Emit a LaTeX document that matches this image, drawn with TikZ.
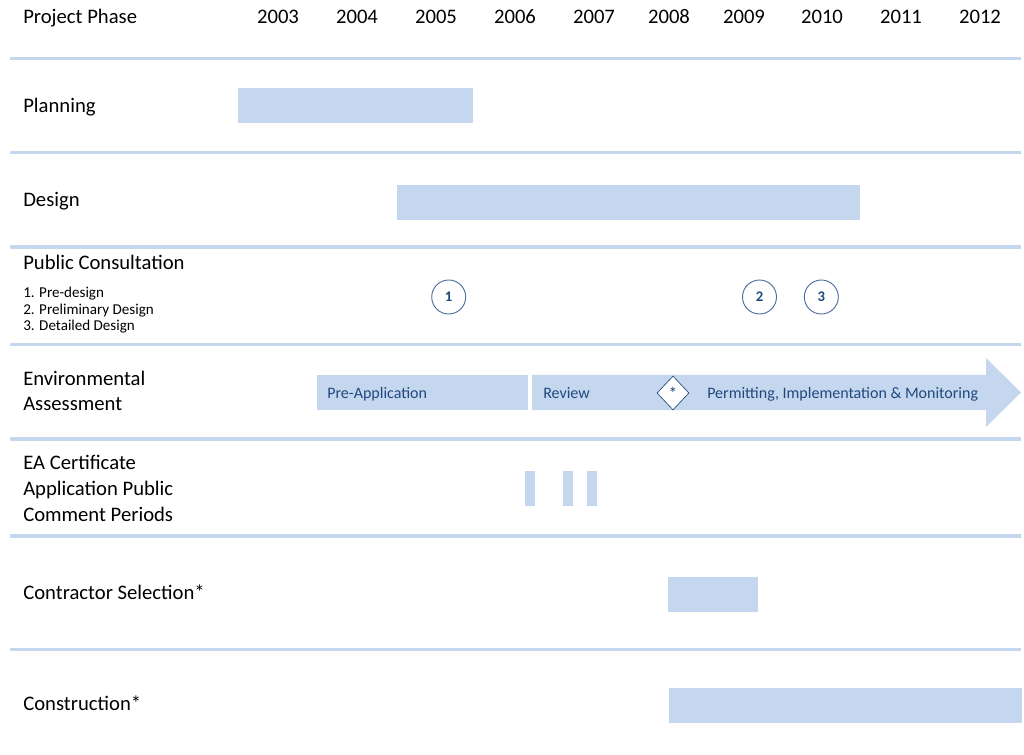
\documentclass[tikz,border=0pt]{standalone}
\usepackage{fontspec}
\setmainfont{Carlito}
\usetikzlibrary{shapes.geometric}
\definecolor{barblue}{RGB}{197,214,239}
\definecolor{txtblue}{RGB}{31,73,125}
\definecolor{ringblue}{RGB}{79,110,160}
\tikzset{
  sep/.style={draw=barblue,line width=2.3pt},
  bar/.style={fill=barblue,draw=none},
  fixh/.style={text height=0.9em,text depth=0.15em},
  lbl/.style={anchor=west,inner sep=0pt,fixh,font=\fontsize{15.5}{18}\selectfont,text=black},
  yr/.style={anchor=center,inner sep=0pt,fixh,font=\fontsize{15.5}{18}\selectfont,text=black},
  lst/.style={anchor=west,inner sep=0pt,fixh,font=\fontsize{11.3}{13}\selectfont,text=black},
  ealbl/.style={anchor=west,inner sep=0pt,fixh,font=\fontsize{12}{14}\selectfont,text=txtblue},
  ring/.style={circle,draw=ringblue,line width=0.7pt,fill=white,minimum size=25.5pt,inner sep=0pt,font=\fontsize{11}{12}\selectfont\bfseries,text=txtblue},
  gate/.style={diamond,draw=txtblue,line width=0.5pt,fill=white,minimum width=24pt,minimum height=25.5pt,inner sep=0pt,font=\fontsize{13}{14}\selectfont,text=txtblue}
}
\begin{document}
\begin{tikzpicture}[x=0.75pt,y=-0.75pt]
\useasboundingbox[fill=white] (0,0) rectangle (1024,755);
% header
\node[lbl] (hdr) at (23,19) {Project Phase};
\node[yr] (y2003) at (278,19) {2003};
\node[yr] (y2004) at (357,19) {2004};
\node[yr] (y2005) at (436,19) {2005};
\node[yr] (y2006) at (515,19) {2006};
\node[yr] (y2007) at (594,19) {2007};
\node[yr] (y2008) at (669,19) {2008};
\node[yr] (y2009) at (744,19) {2009};
\node[yr] (y2010) at (822,19) {2010};
\node[yr] (y2011) at (901,19) {2011};
\node[yr] (y2012) at (980,19) {2012};
% separators
\foreach \yy in {58.5,152.5,247,344.5,439,536,649.5}
  \draw[sep] (10,\yy) -- (1021,\yy);
% Planning
\node[lbl] (plan) at (23,108) {Planning};
\path[bar] (238,88) rectangle (473,123);
% Design
\node[lbl] (design) at (23,202) {Design};
\path[bar] (397,185) rectangle (860,220);
% Public consultation
\node[lbl] (pc) at (23,265) {Public Consultation};
\node[lst] (pc1) at (23,293) {1. Pre-design};
\node[lst] (pc2) at (23,309.5) {2. Preliminary Design};
\node[lst] (pc3) at (23,326) {3. Detailed Design};
\node[ring] (c1) at (448.7,297) {1};
\node[ring] (c2) at (759.5,297) {2};
\node[ring] (c3) at (821.3,297) {3};
% Environmental assessment
\node[lbl] (ea1) at (23,380) {Environmental};
\node[lbl] (ea2) at (23,406) {Assessment};
\path[bar] (317,375) rectangle (528,410);
\fill[barblue] (532,375) -- (986,375) -- (986,358) -- (1021,392.5) -- (986,427) -- (986,410) -- (532,410) -- cycle;
\node[ealbl] (preapp) at (327,393) {Pre-Application};
\node[ealbl] (review) at (543,393) {Review};
\node[gate] (star) at (673,393) {\raisebox{-0.35ex}{*}};
\node[ealbl] (perm) at (707,393) {Permitting, Implementation \& Monitoring};
% EA certificate
\node[lbl] (eac1) at (23,464) {EA Certificate};
\node[lbl] (eac2) at (23,490) {Application Public};
\node[lbl] (eac3) at (23,516) {Comment Periods};
\path[bar] (525,471) rectangle (535,506);
\path[bar] (563,471) rectangle (573,506);
\path[bar] (587,471) rectangle (597,506);
% Contractor selection
\node[lbl] (cs) at (23,594) {Contractor Selection*};
\path[bar] (668,577) rectangle (758,612);
% Construction
\node[lbl] (con) at (23,705) {Construction*};
\path[bar] (669,688) rectangle (1022,723);
\end{tikzpicture}
\end{document}
